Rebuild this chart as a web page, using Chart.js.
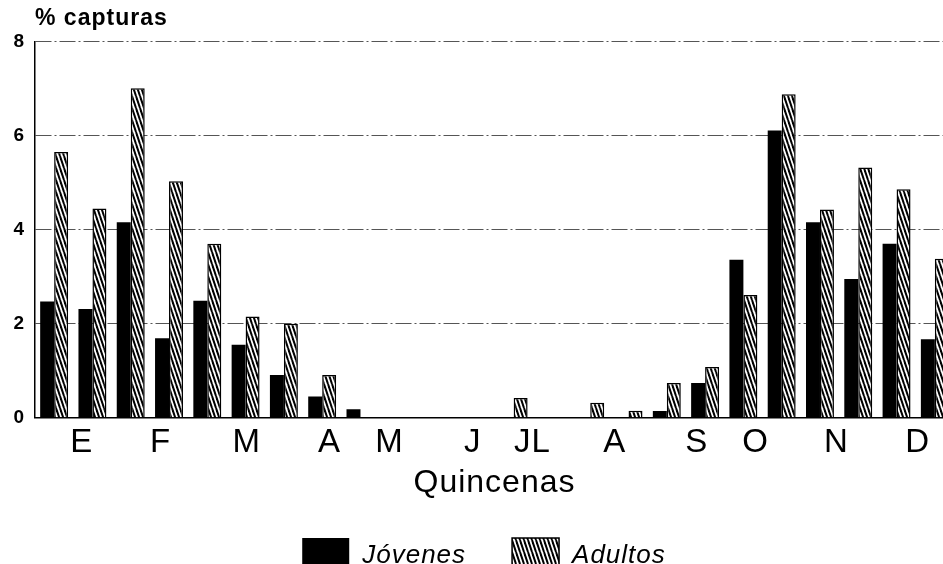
<!DOCTYPE html>
<html>
<head>
<meta charset="utf-8">
<script src="https://cdn.jsdelivr.net/npm/chart.js@4/dist/chart.umd.min.js"></script>
<style>
  body { margin: 0; background: #fff; }
  #marco { width: 943px; height: 564px; overflow: hidden; }
</style>
</head>
<body>
<div id="marco">
  <canvas id="grafico" width="958" height="584"></canvas>
</div>
<script>
// quincenas (dos por mes)
const quincenas = ['E1','E2','F1','F2','M1','M2','A1','A2','M1','M2','J1','J2',
                   'JL1','JL2','A1','A2','S1','S2','O1','O2','N1','N2','D1','D2'];
// % capturas por quincena
const jovenes = [2.47, 2.31, 4.16, 1.69, 2.49, 1.55, 0.91, 0.45, 0.18, 0, 0, 0,
                 0, 0, 0, 0, 0.14, 0.74, 3.36, 6.11, 4.16, 2.95, 3.70, 1.67];
const adultos = [5.65, 4.45, 7.01, 5.03, 3.70, 2.15, 2.00, 0.91, 0, 0, 0, 0,
                 0.42, 0, 0.32, 0.15, 0.74, 1.08, 2.61, 6.88, 4.43, 5.32, 4.86, 3.38];
// etiquetas de los meses y su posición (en quincenas) sobre el eje
const meses = ['E','F','M','A','M','J','JL','A','S','O','N','D'];
const posMeses = [1.22, 3.28, 5.53, 7.69, 9.26, 11.43, 12.99, 15.14, 17.28, 18.82, 20.93, 23.05];
const ticksY = [0, 2, 4, 6, 8];

Chart.defaults.font.family = "'Liberation Sans', Arial, sans-serif";
Chart.defaults.color = '#000';

// trama rayada para los adultos
function trama() {
    const c = document.createElement('canvas');
    c.width = 4; c.height = 12;
    const g = c.getContext('2d');
    g.fillStyle = '#fff';
    g.fillRect(0, 0, 4, 12);
    g.strokeStyle = '#000';
    g.lineWidth = 2;
    [-4, 0, 4].forEach(dx => {
        g.beginPath();
        g.moveTo(dx, 0);
        g.lineTo(dx + 4, 12);
        g.stroke();
    });
    return g.createPattern(c, 'repeat');
}

// un poco de espacio entre letras, como en el original
const espaciado = {
    id: 'espaciado',
    beforeDraw: ch => { ch.ctx.letterSpacing = '1px'; }
};

const ctx = document.getElementById('grafico').getContext('2d');
const chart = new Chart(ctx, {
    type: 'bar',
    data: {
        labels: quincenas,
        datasets: [{
            label: 'Jóvenes',
            data: jovenes,
            backgroundColor: '#000',
            borderWidth: 0,
            categoryPercentage: 0.73,
            barPercentage: 1.0,
            xAxisID: 'x'
        }, {
            label: 'Adultos',
            data: adultos,
            backgroundColor: trama(),
            borderColor: '#000',
            borderWidth: 1.5,
            borderSkipped: 'bottom',
            categoryPercentage: 0.73,
            barPercentage: 1.0,
            xAxisID: 'x'
        }]
    },
    plugins: [espaciado],
    options: {
        responsive: false,
        animation: false,
        layout: { padding: { left: 0, right: 4, top: 0, bottom: 0 } },
        scales: {
            x: { display: false },
            meses: {
                type: 'linear',
                position: 'bottom',
                offset: false,
                bounds: 'data',
                min: 0,
                max: 24,
                afterBuildTicks: axis => {
                    axis.ticks = posMeses.map(v => ({ value: v }));
                },
                ticks: {
                    autoSkip: false,
                    maxRotation: 0,
                    padding: 5,
                    font: { size: 33 },
                    callback: (v, i) => meses[i]
                },
                grid: { display: false, drawTicks: false, offset: false },
                border: { display: true, color: '#000', width: 1.5 },
                title: {
                    display: true,
                    text: 'Quincenas',
                    font: { size: 32 },
                    padding: { top: -3, bottom: -10.7 }
                }
            },
            y: {
                min: 0,
                max: 8,
                afterBuildTicks: axis => {
                    axis.ticks = ticksY.map(v => ({ value: v }));
                },
                afterFit: scale => { scale.width = 35; },
                ticks: {
                    padding: 10,
                    font: { size: 19, weight: 'bold' }
                },
                grid: {
                    drawTicks: false,
                    color: c => c.tick && c.tick.value === 0 ? 'rgba(0,0,0,0)' : '#555',
                    lineWidth: 1
                },
                // en v4 el trazo discontinuo de border se aplica a las líneas de la rejilla
                border: { display: true, color: '#000', width: 1.5, dash: [16, 3, 2, 3] }
            }
        },
        plugins: {
            title: {
                display: true,
                text: '% capturas',
                align: 'start',
                fullSize: false,
                font: { size: 23, weight: 'bold' },
                padding: { top: 5, bottom: 9 }
            },
            legend: {
                position: 'bottom',
                labels: {
                    boxWidth: 47,
                    boxHeight: 36,
                    padding: 46,
                    font: { size: 26, style: 'italic' }
                }
            },
            tooltip: { enabled: false }
        }
    }
});
</script>
</body>
</html>
